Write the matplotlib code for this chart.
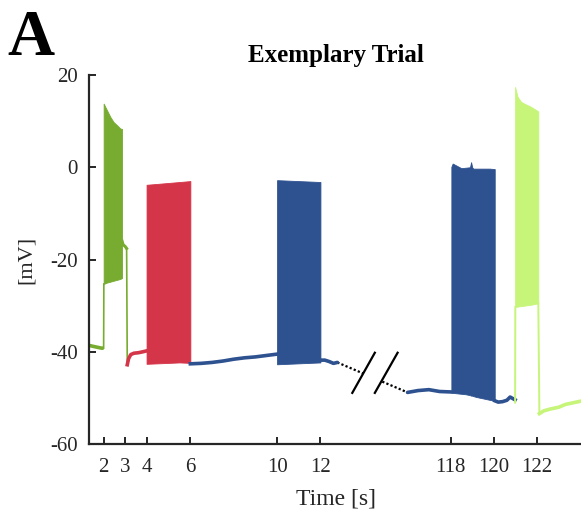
import matplotlib
matplotlib.use("Agg")
import matplotlib.pyplot as plt

# ----- Data (time in s, voltage in mV) -----
# the second part of the trace (116-124 s) is drawn shifted by BREAK_SHIFT
BREAK_SHIFT = 100

tick_times = [2, 3, 4, 6, 10, 12, 118, 120, 122]
tick_labels = ["2", "3", "4", "6", "10", "12", "118", "120", "122"]
y_ticks = [-60, -40, -20, 0, 20]

# olive green: rest, then stimulation burst, then short tail
green_base_t = [1.32, 1.5, 1.7, 1.9, 2.0, 2.01]
green_base_v = [-38.6, -38.8, -39.0, -39.2, -39.2, -25.3]
green_burst_t = [2.0, 2.15, 2.31, 2.46, 2.62, 2.77, 2.85]
green_burst_hi = [13.8, 12.4, 10.9, 9.8, 9.1, 8.4, 8.3]
green_burst_lo = [-25.3, -25.0, -24.8, -24.6, -24.4, -24.2, -24.0]
green_tail_t = [2.85, 2.9, 3.0, 3.06, 3.09]
green_tail_v = [-16.0, -16.8, -17.2, -17.6, -42.8]

# red
red_base_t = [3.09, 3.15, 3.25, 3.4, 3.6, 3.8, 3.98]
red_base_v = [-42.8, -41.5, -40.6, -40.3, -40.2, -40.0, -39.8]
red_burst_t = [3.98, 4.5, 5.0, 5.5, 6.0]
red_burst_hi = [-3.8, -3.6, -3.4, -3.2, -3.0]
red_burst_lo = [-42.6, -42.5, -42.4, -42.3, -42.4]

# blue, first part
blue_base_t = [6.0, 6.5, 7.0, 7.5, 8.0, 8.5, 9.0, 9.5, 10.0]
blue_base_v = [-42.6, -42.5, -42.3, -42.0, -41.6, -41.3, -41.1, -40.8, -40.5]
blue_burst_t = [10.0, 10.5, 11.0, 11.5, 12.0]
blue_burst_hi = [-2.8, -2.9, -3.0, -3.1, -3.2]
blue_burst_lo = [-42.7, -42.6, -42.5, -42.4, -42.3]
blue_after_t = [12.0, 12.2, 12.4, 12.6, 12.78]
blue_after_v = [-41.8, -41.8, -42.1, -42.5, -42.3]

# blue, second part
blue2_base_t = [116.02, 116.5, 117.0, 117.5, 118.04]
blue2_base_v = [-48.8, -48.4, -48.2, -48.6, -48.7]
blue2_burst_t = [118.04, 118.1, 118.3, 118.5, 118.7, 118.9, 118.95, 119.0, 119.05, 119.2, 119.5, 119.8, 120.04]
blue2_burst_hi = [0.1, 0.8, 0.3, -0.2, -0.1, 0.0, 1.1, 0.0, -0.3, -0.3, -0.3, -0.3, -0.4]
blue2_burst_lo = [-48.9, -48.9, -49.0, -49.1, -49.2, -49.4, -49.5, -49.5, -49.6, -49.8, -50.1, -50.4, -50.6]
blue2_after_t = [120.04, 120.2, 120.4, 120.6, 120.75, 120.9, 120.98]
blue2_after_v = [-50.6, -50.9, -50.8, -50.5, -49.8, -50.2, -50.4]

# light green
lime_base_t = [120.98, 120.99]
lime_base_v = [-51.0, -30.3]
lime_burst_t = [120.98, 121.09, 121.25, 121.40, 121.71, 122.02, 122.05]
lime_burst_hi = [17.4, 15.3, 14.2, 13.8, 13.1, 12.2, 12.0]
lime_burst_lo = [-30.3, -30.2, -30.1, -30.0, -29.8, -29.5, -29.4]
lime_tail_t = [122.05, 122.1, 122.3, 122.6, 123.0, 123.3, 123.7, 124.1]
lime_tail_v = [-29.4, -53.4, -52.8, -52.4, -52.0, -51.4, -51.0, -50.6]

# axis break marks (shifted time, mV)
break_x = [(13.47, 14.51), (14.51, 15.56)]
break_y = (-48.9, -40.2)

GREEN = "#77ac30"
RED = "#d43549"
BLUE = "#2e5290"
LIME = "#c6f57a"


def shift(ts):
    return [t - BREAK_SHIFT if t > 50 else t for t in ts]


plt.rcParams["font.family"] = ["Liberation Serif", "DejaVu Serif"]

fig = plt.figure(figsize=(5.81, 5.17), dpi=100)
ax = fig.add_axes([0.153, 0.141, 0.85, 0.714])

lw = 2.6

# bursts
ax.fill_between(green_burst_t, green_burst_lo, green_burst_hi, color=GREEN, lw=0.6)
ax.fill_between(red_burst_t, red_burst_lo, red_burst_hi, color=RED, lw=0.6)
ax.fill_between(blue_burst_t, blue_burst_lo, blue_burst_hi, color=BLUE, lw=0.6)
ax.fill_between(shift(blue2_burst_t), blue2_burst_lo, blue2_burst_hi, color=BLUE, lw=0.6)
ax.fill_between(shift(lime_burst_t), lime_burst_lo, lime_burst_hi, color=LIME, lw=0.6)

# resting traces
ax.plot(green_base_t[:-1], green_base_v[:-1], color=GREEN, lw=lw, solid_capstyle="butt")
ax.plot(green_base_t[-2:], green_base_v[-2:], color=GREEN, lw=1.2)
ax.plot(green_tail_t[:-1], green_tail_v[:-1], color=GREEN, lw=2.2)
ax.plot(green_tail_t[-2:], green_tail_v[-2:], color=GREEN, lw=1.2)
ax.plot(red_base_t, red_base_v, color=RED, lw=lw)
ax.plot(blue_base_t, blue_base_v, color=BLUE, lw=lw)
ax.plot(blue_after_t, blue_after_v, color=BLUE, lw=lw, solid_capstyle="round")
ax.plot(shift(blue2_base_t), blue2_base_v, color=BLUE, lw=lw, solid_capstyle="round")
ax.plot(shift(blue2_after_t), blue2_after_v, color=BLUE, lw=lw)
ax.plot(shift(lime_base_t), lime_base_v, color=LIME, lw=1.4)
ax.plot(shift(lime_tail_t[:2]), lime_tail_v[:2], color=LIME, lw=1.4)
ax.plot(shift(lime_tail_t[1:]), lime_tail_v[1:], color=LIME, lw=lw)

# dotted connection across the break
ax.plot([blue_after_t[-1], blue2_base_t[0] - BREAK_SHIFT],
        [blue_after_v[-1], blue2_base_v[0]],
        color="black", lw=1.6, ls=(0, (1, 1)), zorder=1)
ax.fill([break_x[0][0], break_x[1][0], break_x[1][1], break_x[0][1]],
        [break_y[0], break_y[0], break_y[1], break_y[1]],
        color="white", lw=0, zorder=2)
for x0, x1 in break_x:
    ax.plot([x0, x1], break_y, color="black", lw=1.6, zorder=3)

# axes
ax.set_xlim(1.32, 24.1)
ax.set_ylim(-60, 20)
ax.set_xticks(shift(tick_times))
ax.set_xticklabels(tick_labels)
ax.set_yticks(y_ticks)
ax.set_yticklabels([str(v) for v in y_ticks])
ax.tick_params(direction="in", length=5, width=1.4, labelsize=15, colors="#262626", pad=8)
ax.tick_params(axis="x", pad=10)
for side in ["top", "right"]:
    ax.spines[side].set_visible(False)
for side in ["left", "bottom"]:
    ax.spines[side].set_linewidth(1.6)
    ax.spines[side].set_color("#262626")

ax.set_xlabel("Time [s]", fontsize=17, color="#262626", labelpad=8)
ax.set_ylabel("[mV]", fontsize=16, color="#262626", labelpad=10)
ax.set_title("Exemplary Trial", fontsize=18, fontweight="bold", pad=9)
fig.text(0.012, 0.894, "A", fontsize=47, fontweight="bold")

fig.savefig("out.png", dpi=100)
